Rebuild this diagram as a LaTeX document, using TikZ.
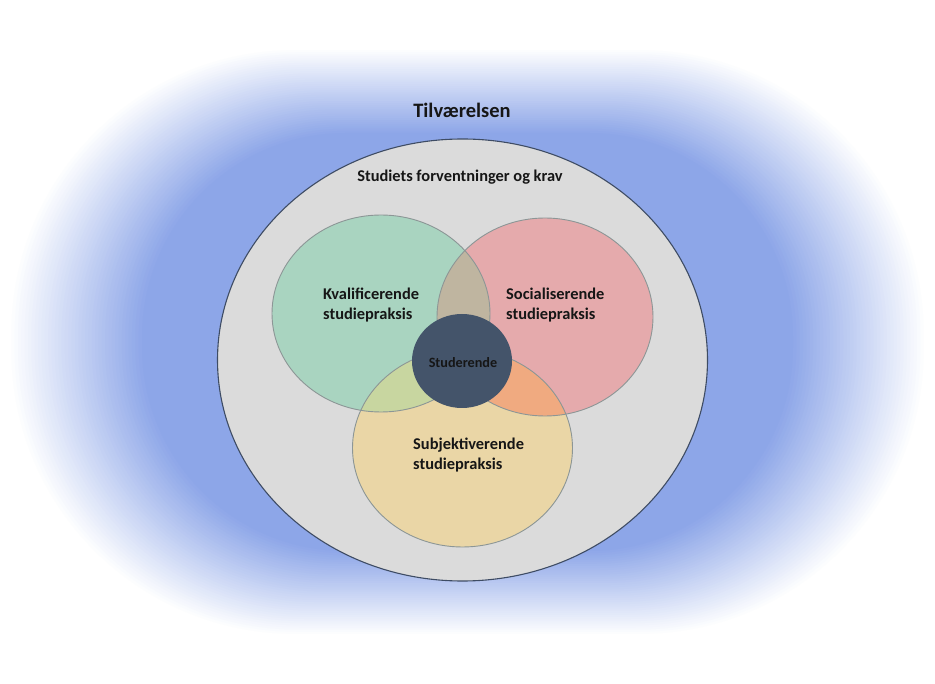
\documentclass[tikz,border=0pt]{standalone}
\usepackage{fontspec}
\setmainfont{Carlito}
\definecolor{bgblue}{RGB}{141,166,232}
\definecolor{greyfill}{RGB}{219,219,219}
\definecolor{outline}{RGB}{62,76,100}
\definecolor{cgreen}{RGB}{169,212,192}
\definecolor{cred}{RGB}{229,170,172}
\definecolor{cyellow}{RGB}{234,214,166}
\definecolor{lensgr}{RGB}{191,181,160}
\definecolor{lensgy}{RGB}{200,214,160}
\definecolor{lensry}{RGB}{240,170,128}
\definecolor{cdark}{RGB}{68,84,106}
\definecolor{ringc}{RGB}{140,150,150}
\definecolor{txt}{RGB}{22,22,22}
\begin{document}
\begin{tikzpicture}[x=1pt,y=-1pt,
  lab/.style={font=\bfseries\fontsize{16.4}{20}\selectfont, text=txt, align=left, inner sep=0pt},
  ring/.style={draw=ringc, line width=0.9pt}]
\useasboundingbox (0,0) rectangle (935,684);
\fill[white] (0,0) rectangle (935,684);
% soft blue glow behind the diagram
\foreach \i in {0,...,40} {
  \pgfmathsetmacro\t{\i/40}
  \pgfmathsetmacro\p{100*\t}
  \pgfmathsetmacro\xl{8+134*\t}
  \pgfmathsetmacro\xr{927-134*\t}
  \pgfmathsetmacro\yt{48+85*\t}
  \pgfmathsetmacro\yb{636-85*\t}
  \pgfmathsetmacro\rc{286-82*\t}
  \fill[bgblue!\p!white, rounded corners=\rc pt] (\xl,\yt) rectangle (\xr,\yb);
}
% centres
\coordinate (O) at (462.5,360);
\coordinate (G) at (381,313.5);
\coordinate (R) at (545,317);
\coordinate (Y) at (462.5,448);
\coordinate (D) at (462,361);
\def\gpath{(G) ellipse [x radius=109pt, y radius=98.5pt]}
\def\rpath{(R) ellipse [x radius=108pt, y radius=99pt]}
\def\ypath{(Y) ellipse [x radius=110pt, y radius=99pt]}
% outer ellipse
\fill[greyfill] (O) ellipse [x radius=245pt, y radius=221pt];
\draw[outline, line width=1.1pt] (O) ellipse [x radius=245pt, y radius=221pt];
% three circles
\fill[cgreen] \gpath;
\fill[cred] \rpath;
\fill[cyellow] \ypath;
\begin{scope}\clip \gpath; \fill[lensgr] \rpath; \end{scope}
\begin{scope}\clip \gpath; \fill[lensgy] \ypath; \end{scope}
\begin{scope}\clip \rpath; \fill[lensry] \ypath; \end{scope}
\draw[ring] \gpath;
\draw[ring] \rpath;
\draw[ring] \ypath;
% centre
\fill[cdark] (D) ellipse [x radius=50pt, y radius=47pt];
% texts
\node[lab, font=\bfseries\fontsize{20.5}{24}\selectfont] (tilv) at (462,110) {Tilværelsen};
\node[lab] (krav) at (460,177) {Studiets forventninger og krav};
\node[lab, anchor=west] (kval) at (323,305) {Kvalificerende\\studiepraksis};
\node[lab, anchor=west] (sos) at (506,305) {Socialiserende\\studiepraksis};
\node[lab, anchor=west] (subj) at (413,455) {Subjektiverende\\studiepraksis};
\node[lab, font=\bfseries\fontsize{14.2}{17}\selectfont] (stud) at (463,363) {Studerende};
\end{tikzpicture}
\end{document}
